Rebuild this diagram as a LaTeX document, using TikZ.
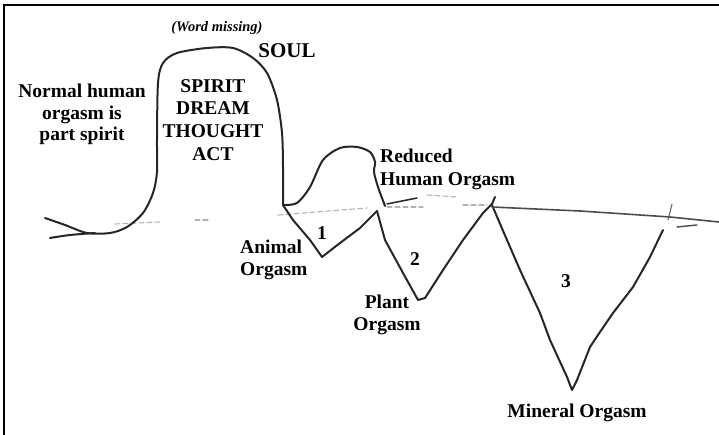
\documentclass[tikz,border=0pt]{standalone}
\usepackage{fontspec}
\setmainfont{Liberation Serif}
\begin{document}
\begin{tikzpicture}[x=1pt,y=-1pt,
  sketch/.style={line width=2pt,draw=black!85,line join=round,line cap=round},
  faint/.style={line width=1.1pt,draw=black!30,dash pattern=on 5pt off 3pt,line cap=round},
  lbl/.style={inner sep=0pt,font=\fontsize{19.5}{22.5}\selectfont\bfseries},
  num/.style={inner sep=0pt,font=\fontsize{19.5}{22}\selectfont\bfseries}]
\useasboundingbox (0,0) rectangle (719,435);
% frame
\draw[line width=2.2pt] (4,435) -- (4,5) -- (719,5);

% faint baseline dashes
\draw[faint] (115,224) -- (160,222);
\draw[faint] (195,220) -- (208,220);
\draw[faint] (278,215) -- (367,208);
\draw[faint] (387,207) -- (423,207);
\draw[faint] (463,205) -- (487,205);
\draw[faint] (427,195) -- (457,197);

% left scribble + main hump
\draw[sketch] plot[smooth,tension=0.5] coordinates {(45,218) (65,225) (87,233) (110,233) (127,227) (143,213) (153,193) (157,172) (157,140) (158,83) (163,63) (177,53) (207,48) (233,48) (253,58) (267,73) (277,100) (282,133) (283,167) (283,205)};
\draw[sketch] plot[smooth,tension=0.5] coordinates {(50,238) (70,235) (95,233)};

% small hump (reduced human orgasm)
\draw[sketch] plot[smooth,tension=0.5] coordinates {(283,205) (297,203) (310,187) (323,160) (340,148) (357,147) (370,152) (375,162) (374,172) (378,187) (385,206)};
\draw[sketch,line width=1.5pt] (387,204) -- (417,198);

% triangle 1
\draw[sketch] (283,205) -- (293,220) -- (310,240) -- (322,257) -- (340,243) -- (360,228) -- (377,211);
% triangle 2
\draw[sketch] (377,211) -- (385,240) -- (403,273) -- (418,300) -- (425,298) -- (443,270) -- (463,240) -- (483,213) -- (492,204) -- (495,197);
% triangle 3
\draw[sketch] (492,205) -- (507,240) -- (520,270) -- (540,313) -- (550,340) -- (567,377) -- (572,390) -- (577,380) -- (590,347) -- (600,332) -- (613,313) -- (633,287) -- (650,257) -- (663,230);

% horizontal line to the right
\draw[sketch,line width=1.6pt,draw=black!70] (492,207) -- (580,211) -- (670,217) -- (719,222);
\draw[sketch,line width=1.4pt,draw=black!70] (677,227) -- (697,225);
\draw[sketch,line width=1.1pt,draw=black!60] (672,204) -- (668,220);

% labels
\node[inner sep=0pt,anchor=base,font=\fontsize{14.5}{16}\selectfont\bfseries\itshape] (word) at (217,32) {(Word missing)};
\node[inner sep=0pt,anchor=base,font=\fontsize{21}{24}\selectfont\bfseries] (soul) at (287,58) {SOUL};
\node[lbl,anchor=north,align=center,font=\fontsize{19.5}{21.5}\selectfont\bfseries] (normal) at (82,84) {Normal human\\orgasm is\\part spirit};
\node[lbl,anchor=north,align=center,font=\fontsize{19.5}{22.7}\selectfont\bfseries] (spirit) at (213,79) {SPIRIT\\DREAM\\THOUGHT\\ACT};
\node[lbl,anchor=north west,align=left,font=\fontsize{19.5}{23}\selectfont\bfseries] (reduced) at (380,149) {Reduced\\Human Orgasm};
\node[lbl,anchor=north west,align=left,font=\fontsize{19.5}{22}\selectfont\bfseries] (animal) at (240,240) {Animal\\Orgasm};
\node[lbl,anchor=north,align=center,font=\fontsize{19.5}{22}\selectfont\bfseries] (plant) at (387,295) {Plant\\Orgasm};
\node[lbl,anchor=base] (mineral) at (577,417) {Mineral Orgasm};
\node[num] (n1) at (322,233) {1};
\node[num] (n2) at (415,259) {2};
\node[num] (n3) at (566,281) {3};
\end{tikzpicture}
\end{document}
